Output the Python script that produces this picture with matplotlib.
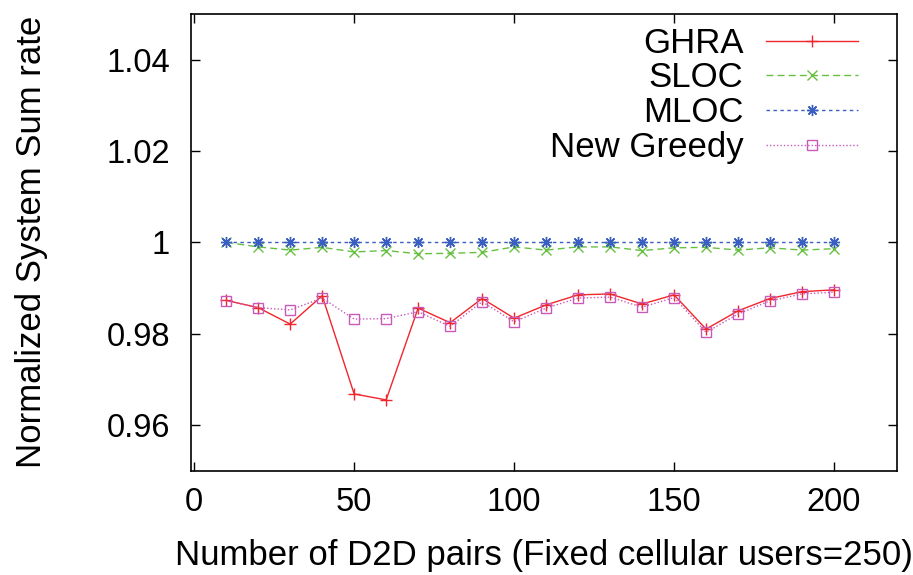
import numpy as np
import matplotlib.pyplot as plt

plt.rcParams['font.family'] = ['Liberation Sans', 'DejaVu Sans']

# number of D2D pairs
pairs = [10, 20, 30, 40, 50, 60, 70, 80, 90, 100,
         110, 120, 130, 140, 150, 160, 170, 180, 190, 200]

ghra = [0.9873, 0.9857, 0.9821, 0.9883, 0.9668, 0.9655, 0.9856, 0.9824, 0.9877, 0.9834,
        0.9863, 0.9885, 0.9887, 0.9865, 0.9885, 0.9810, 0.9850, 0.9877, 0.9892, 0.9896]
sloc = [1.0000, 0.9990, 0.9983, 0.9989, 0.9979, 0.9982, 0.9975, 0.9976, 0.9978, 0.9990,
        0.9983, 0.9990, 0.9990, 0.9982, 0.9988, 0.9989, 0.9983, 0.9988, 0.9983, 0.9986]
mloc = [1.0000] * 20
new_greedy = [0.9872, 0.9857, 0.9852, 0.9878, 0.9832, 0.9833, 0.9848, 0.9816, 0.9870, 0.9826,
              0.9856, 0.9878, 0.9880, 0.9858, 0.9879, 0.9803, 0.9843, 0.9872, 0.9887, 0.9891]

fig = plt.figure(figsize=(9.13, 5.75), dpi=100)
ax = fig.add_axes([0.2092, 0.1814, 0.7733, 0.7943])

ax.plot(pairs, ghra, color='#f0262a', lw=1.0, marker='+', ms=8, mew=1.0, label='GHRA')
ax.plot(pairs, sloc, color='#66c040', lw=1.0, ls=(0, (5, 3)), marker='x', ms=7, mew=1.0,
        label='SLOC')
ax.plot(pairs, mloc, color='#3a5fc0', lw=1.0, ls=(0, (2.5, 2.5)), marker=(8, 2, 0), ms=8,
        mew=1.0, label='MLOC')
ax.plot(pairs, new_greedy, color='#c85ab8', lw=1.0, ls=(0, (1, 1.5)), marker='s', ms=7,
        mew=1.0, mfc='none', label='New Greedy')

ax.set_xlim(-1, 219.7)
ax.set_ylim(0.95, 1.05)
ax.set_xticks([0, 50, 100, 150, 200])
ax.set_yticks([0.96, 0.98, 1.0, 1.02, 1.04])
ax.set_yticklabels(['0.96', '0.98', '1', '1.02', '1.04'])

ax.tick_params(direction='in', length=6.5, width=1.0, top=True, right=True,
               labelsize=23.5)
ax.tick_params(axis='y', pad=15)
ax.tick_params(axis='x', pad=12)
for s in ax.spines.values():
    s.set_linewidth(1.2)

ax.set_xlabel('Number of D2D pairs (Fixed cellular users=250)', fontsize=25)
ax.set_ylabel('Normalized System Sum rate', fontsize=25)
ax.xaxis.set_label_coords(0.5, -0.15)
ax.yaxis.set_label_coords(-0.203, 0.5)

ax.legend(loc='upper right', markerfirst=False, frameon=False, fontsize=25,
          handlelength=2.65, labelspacing=0.05, handletextpad=0.66,
          borderpad=0, borderaxespad=0, bbox_to_anchor=(0.945, 0.972))

fig.savefig('out.png', dpi=100)
